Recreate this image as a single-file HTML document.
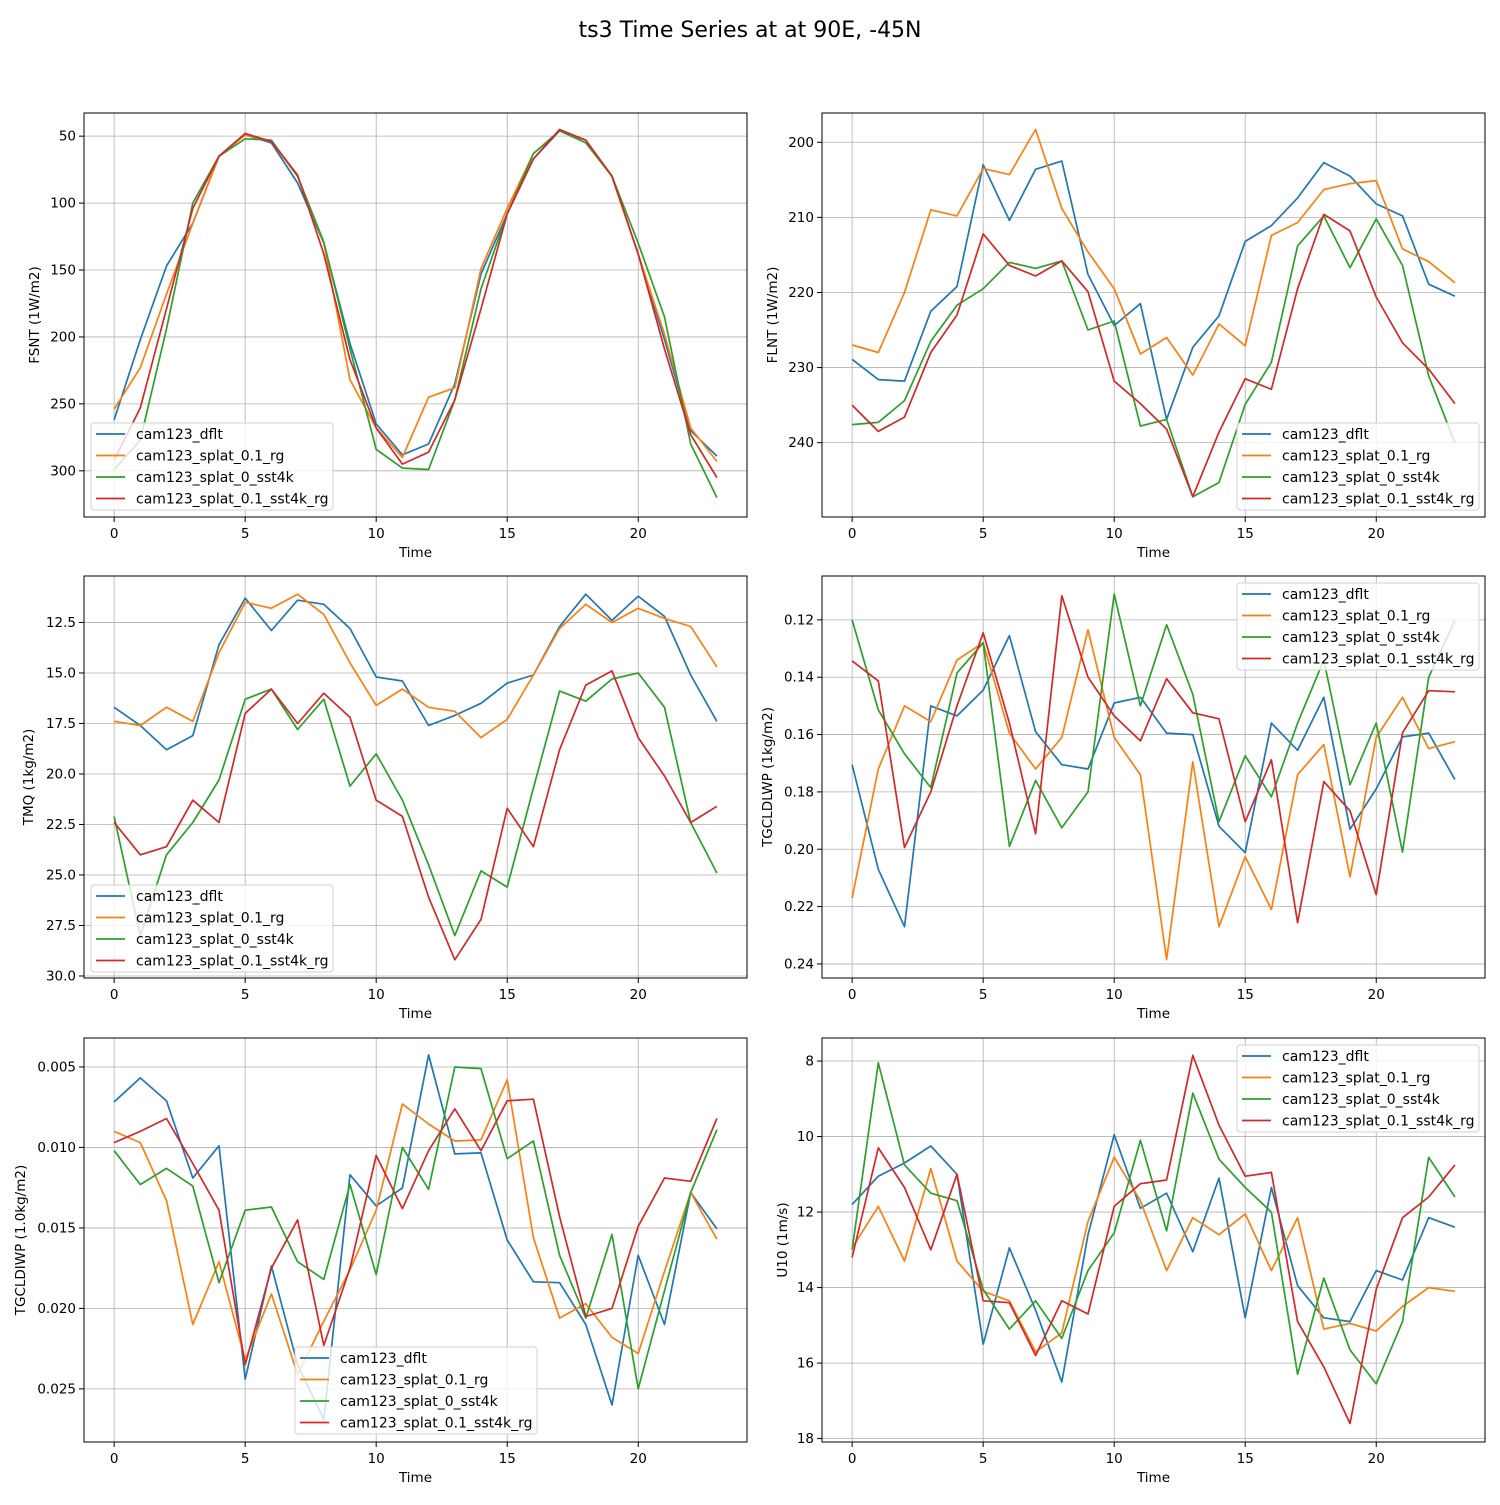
<!DOCTYPE html>
<html><head><meta charset="utf-8">
<style>
html,body{margin:0;padding:0;background:#fff;}
svg text{font-family:"DejaVu Sans","Liberation Sans",sans-serif;fill:#000;}
</style></head>
<body>
<svg id="fig" width="1500" height="1500" viewBox="0 0 1500 1500" xmlns="http://www.w3.org/2000/svg">
<rect width="1500" height="1500" fill="#fff"/>
<text x="750" y="37" font-size="22" text-anchor="middle">ts3 Time Series at at 90E, -45N</text>
</svg>
<script>
const seriesNames = ["cam123_dflt","cam123_splat_0.1_rg","cam123_splat_0_sst4k","cam123_splat_0.1_sst4k_rg"];
const colors = ["#1f77b4","#ff7f0e","#2ca02c","#d62728"];
const xTicks = [0,5,10,15,20];

const fsntBlue=[262,202,147,115,65,49,55,85,130,205,265,288,280,235,153,108,67,46,53,80,138,202,270,289];
const fsntOrange=[254,223,168,115,65,49,54,80,130,232,268,290,245,238,149,104,63,46,53,80,138,198,268,293];
const fsntGreen=[299,277,194,100,65,52,53,80,129,209,284,298,299,247,164,108,63,46,55,80,130,185,280,320];
const fsntRed=[292,253,179,104,65,48,54,79,138,217,268,295,286,247,179,108,67,45,53,80,138,209,273,305];
const fsntTicks=[50,100,150,200,250,300];

const flntBlue=[228.9,231.6,231.8,222.5,219.2,203,210.4,203.6,202.5,217.6,224.4,221.5,236.9,227.3,223.1,213.2,211.1,207.4,202.7,204.5,208.2,209.8,218.9,220.5];
const flntOrange=[227,228,220,209,209.8,203.5,204.3,198.3,208.8,214.6,219.5,228.2,226,231,224.2,227.1,212.4,210.7,206.3,205.5,205.1,214.2,215.9,218.7];
const flntGreen=[237.6,237.3,234.4,226.5,221.7,219.5,216,216.8,215.8,225,223.8,237.8,236.9,247.2,245.3,234.9,229.3,213.8,209.8,216.7,210.2,216.4,231.1,240];
const flntRed=[235,238.5,236.6,228,223,212.2,216.4,217.8,215.8,219.9,231.8,234.8,238.2,247.2,238.6,231.5,232.9,219.5,209.6,211.8,220.6,226.7,230.2,234.8];
const flntTicks=[200,210,220,230,240];

const tmqBlue=[16.7,17.6,18.8,18.1,13.6,11.3,12.9,11.4,11.6,12.8,15.2,15.4,17.6,17.1,16.5,15.5,15.1,12.7,11.1,12.4,11.2,12.2,15.1,17.4];
const tmqOrange=[17.4,17.6,16.7,17.4,14.0,11.5,11.8,11.1,12.1,14.5,16.6,15.8,16.7,16.9,18.2,17.3,15.1,12.8,11.6,12.5,11.8,12.3,12.7,14.7];
const tmqGreen=[22.1,28,24,22.4,20.3,16.3,15.8,17.8,16.3,20.6,19,21.3,24.5,28,24.8,25.6,20.7,15.9,16.4,15.3,15,16.7,22.4,24.9];
const tmqRed=[22.4,24,23.6,21.3,22.4,17,15.8,17.5,16,17.2,21.3,22.1,26.1,29.2,27.2,21.7,23.6,18.8,15.6,14.9,18.2,20.1,22.4,21.6];
const tmqTicks=[12.5,15,17.5,20,22.5,25,27.5,30];

const lwpBlue=[.1705,.207,.227,.150,.1535,.1445,.1255,.159,.1705,.172,.149,.147,.1595,.160,.192,.2012,.156,.1655,.147,.193,.179,.1608,.1595,.1757];
const lwpOrange=[.217,.172,.150,.1555,.134,.128,.1595,.172,.161,.1235,.161,.174,.2385,.1695,.227,.2026,.221,.174,.1635,.2096,.161,.147,.1649,.1625];
const lwpGreen=[.12,.1514,.1667,.1785,.1385,.128,.199,.176,.1925,.180,.111,.150,.1217,.146,.1904,.1674,.1817,.156,.134,.1775,.156,.201,.140,.1203];
const lwpRed=[.1343,.1413,.1994,.180,.150,.1245,.156,.1946,.1116,.140,.1535,.1622,.1405,.1524,.1545,.1904,.1688,.2256,.1764,.1866,.2158,.1594,.1447,.1451];
const lwpTicks=[0.12,0.14,0.16,0.18,0.20,0.22,0.24];

const iwpBlue=[.00717,.00568,.00711,.0119,.0099,.0244,.01736,.0235,.0269,.0117,.01363,.01252,.00425,.0104,.01034,.01575,.01835,.0184,.021,.026,.0167,.021,.0128,.01506];
const iwpOrange=[.009,.0097,.0133,.021,.0171,.0232,.0191,.0241,.0208,.0176,.0139,.0073,.00854,.0096,.00953,.0058,.0156,.0206,.0197,.0218,.0228,.0177,.0128,.0157];
const iwpGreen=[.0102,.0123,.0113,.0124,.0184,.0139,.0137,.0171,.0182,.0123,.0179,.010,.0126,.005,.0051,.0107,.0096,.0167,.0206,.0154,.025,.0189,.0128,.0089];
const iwpRed=[.0097,.009,.0082,.0110,.0139,.0235,.0175,.0145,.0223,.0175,.0105,.0138,.0102,.0076,.0102,.0071,.007,.0143,.0205,.02,.0149,.0119,.0121,.0082];
const iwpTicks=[0.005,0.010,0.015,0.020,0.025];

const u10Blue=[11.8,11.05,10.7,10.25,11,15.5,12.95,14.6,16.5,12.6,9.95,11.9,11.5,13.05,11.1,14.8,11.35,13.95,14.8,14.9,13.55,13.8,12.15,12.4];
const u10Orange=[12.95,11.85,13.3,10.85,13.3,14.1,14.35,15.7,15.2,12.25,10.55,11.7,13.55,12.15,12.6,12.05,13.55,12.15,15.1,14.95,15.15,14.5,14,14.1];
const u10Green=[13,8.05,10.75,11.5,11.7,14.05,15.1,14.35,15.35,13.55,12.55,10.1,12.5,8.85,10.6,11.35,12,16.3,13.75,15.65,16.55,14.9,10.55,11.6];
const u10Red=[13.2,10.3,11.35,13,11,14.35,14.4,15.8,14.35,14.7,11.85,11.25,11.15,7.85,9.7,11.05,10.95,14.9,16.1,17.6,14.05,12.15,11.6,10.75];
const u10Ticks=[8,10,12,14,16,18];

const NS="http://www.w3.org/2000/svg";
const fig=document.getElementById('fig');
function mk(tag,attrs,parent){const e=document.createElementNS(NS,tag);for(const k in attrs)e.setAttribute(k,attrs[k]);(parent||fig).appendChild(e);return e;}

function panel(o){
  const g=mk('g',{});
  
  
  const L=o.L,T=o.T,W=o.W,H=o.H;
  const xs=v=>L+W*(v-(-1.15))/(24.15-(-1.15));
  const ys=v=>T+H*(v-o.ymin)/(o.ymax-o.ymin);
  xTicks.forEach(t=>{
    const gl=mk('line',{x1:xs(t),x2:xs(t),y1:T,y2:T+H,stroke:'#b0b0b0','stroke-width':0.8},g);
    
    
    mk('line',{x1:xs(t),x2:xs(t),y1:T+H,y2:T+H+5,stroke:'#000','stroke-width':1},g);
    const tx=mk('text',{x:xs(t),y:T+H+21,'font-size':13.5,'text-anchor':'middle'},g);
    tx.textContent=t;
    
    
  });
  o.ticks.forEach(t=>{
    const gl=mk('line',{x1:L,x2:L+W,y1:ys(t),y2:ys(t),stroke:'#b0b0b0','stroke-width':0.8},g);
    
    
    mk('line',{x1:L-5,x2:L,y1:ys(t),y2:ys(t),stroke:'#000','stroke-width':1},g);
    const tx=mk('text',{x:L-8,y:ys(t)+4.5,'font-size':13.5,'text-anchor':'end'},g);
    tx.textContent=o.fmt(t);
    
    
  });
  o.data.forEach((arr,si)=>{
    const pts=arr.map((v,i)=>xs(i).toFixed(1)+','+ys(v).toFixed(1)).join(' ');
    const pl=mk('polyline',{points:pts,fill:'none',stroke:colors[si],'stroke-width':1.7,'stroke-linejoin':'round'},g);
    
    
  });
  mk('rect',{x:L,y:T,width:W,height:H,fill:'none',stroke:'#000','stroke-width':1},g);
  const xl=mk('text',{x:L+W/2,y:T+H+40,'font-size':13.5,'text-anchor':'middle'},g);
  xl.textContent='Time';
  
  
  const yl=mk('text',{x:0,y:0,'font-size':13.5,'text-anchor':'middle',transform:`translate(${o.ylx},${T+H/2}) rotate(-90)`},g);
  yl.textContent=o.ylabel;
  
  
  const lg=mk('g',{},g);
  
  
  mk('rect',{x:o.lx,y:o.ly,width:242,height:87,rx:3,fill:'#fff','fill-opacity':0.8,stroke:'#d0d0d0','stroke-width':1},lg);
  seriesNames.forEach((n,si)=>{
    const yy=o.ly+11+si*21.5;
    mk('line',{x1:o.lx+5,x2:o.lx+34,y1:yy,y2:yy,stroke:colors[si],'stroke-width':1.7},lg);
    const tx=mk('text',{x:o.lx+45,y:yy+5,'font-size':14},lg);
    tx.textContent=n;
    
    
  });
}
const f0=t=>String(t), f1=t=>t.toFixed(1), f2=t=>t.toFixed(2), f3=t=>t.toFixed(3);
panel({name:'fsnt',L:84,T:113,W:663,H:404,ymin:32.7,ymax:334.5,ticks:fsntTicks,fmt:f0,data:[fsntBlue,fsntOrange,fsntGreen,fsntRed],ylabel:'FSNT (1W/m2)',ylx:39,lx:91,ly:423});
panel({name:'flnt',L:822,T:113,W:663,H:404,ymin:196.1,ymax:249.9,ticks:flntTicks,fmt:f0,data:[flntBlue,flntOrange,flntGreen,flntRed],ylabel:'FLNT (1W/m2)',ylx:777,lx:1237,ly:423});
panel({name:'tmq',L:84,T:576,W:663,H:402,ymin:10.2,ymax:30.1,ticks:tmqTicks,fmt:f1,data:[tmqBlue,tmqOrange,tmqGreen,tmqRed],ylabel:'TMQ (1kg/m2)',ylx:33,lx:91,ly:885});
panel({name:'tgcldlwp',L:822,T:576,W:663,H:402,ymin:0.1047,ymax:0.2449,ticks:lwpTicks,fmt:f2,data:[lwpBlue,lwpOrange,lwpGreen,lwpRed],ylabel:'TGCLDLWP (1kg/m2)',ylx:772,lx:1237,ly:583});
panel({name:'tgcldiwp',L:84,T:1038,W:663,H:404,ymin:0.0032,ymax:0.0283,ticks:iwpTicks,fmt:f3,data:[iwpBlue,iwpOrange,iwpGreen,iwpRed],ylabel:'TGCLDIWP (1.0kg/m2)',ylx:25,lx:295,ly:1347});
panel({name:'u10',L:822,T:1038,W:663,H:404,ymin:7.39,ymax:18.09,ticks:u10Ticks,fmt:f0,data:[u10Blue,u10Orange,u10Green,u10Red],ylabel:'U10 (1m/s)',ylx:787,lx:1237,ly:1045});
</script>
</body></html>
